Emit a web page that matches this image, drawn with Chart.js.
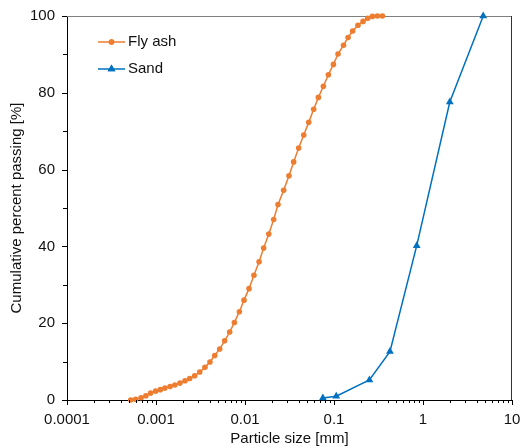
<!DOCTYPE html>
<html>
<head>
<meta charset="utf-8">
<script src="https://cdn.jsdelivr.net/npm/chart.js@4.4.0/dist/chart.umd.min.js"></script>
<style>
  html, body { margin: 0; padding: 0; background: #fff; }
</style>
</head>
<body>
<canvas id="psdChart" width="520" height="448"></canvas>
<script>
// particle size distribution, size in mm, cumulative % passing
const flyAshSize = [0.00052, 0.00059, 0.00068, 0.00077, 0.00087, 0.00099, 0.00112, 0.00126, 0.00144, 0.00163,
  0.00186, 0.00212, 0.00239, 0.00272, 0.0031, 0.00355, 0.00404, 0.00457, 0.0052, 0.00591,
  0.00673, 0.0076, 0.00865, 0.00975, 0.0111, 0.0126, 0.0144, 0.0162, 0.0185, 0.021,
  0.0235, 0.0272, 0.0312, 0.0352, 0.0401, 0.0457, 0.052, 0.0591, 0.0668, 0.076,
  0.0865, 0.0985, 0.111, 0.128, 0.144, 0.162, 0.186, 0.212, 0.239, 0.27,
  0.307, 0.35];
const flyAshPassing = [0, 0.2, 0.6, 1.1, 1.8, 2.3, 2.7, 3.1, 3.5, 3.9,
  4.4, 5.0, 5.6, 6.3, 7.3, 8.5, 9.9, 11.6, 13.3, 15.4,
  17.7, 20.2, 23.0, 26.0, 29.0, 32.5, 36.0, 39.6, 43.2, 47.0,
  50.9, 54.6, 58.4, 62.0, 65.6, 69.0, 72.3, 75.7, 78.8, 81.7,
  84.7, 87.4, 90.1, 92.4, 94.4, 96.1, 97.6, 98.6, 99.4, 99.9,
  100, 100];

const sandSize = [0.075, 0.106, 0.25, 0.425, 0.85, 2.0, 4.75];
const sandPassing = [0.5, 1.0, 5.2, 12.6, 40.2, 77.6, 100];

const xDecades = [0.0001, 0.001, 0.01, 0.1, 1, 10];
const xTickLabels = ['0.0001', '0.001', '0.01', '0.1', '1', '10'];
const yTickLabels = ['0', '20', '40', '60', '80', '100'];

const FONT = { family: "'Liberation Sans', Arial, sans-serif", size: 15 };
const TEXT = '#111';

function toPoints(xs, ys) {
  return xs.map((x, i) => ({ x: x, y: ys[i] }));
}

// outward tick marks (major + minor) and plot box
const axisDeco = {
  id: 'axisDeco',
  beforeDatasetsDraw(chart) {
    const { ctx, chartArea: a } = chart;
    ctx.save();
    ctx.lineWidth = 1;
    ctx.strokeStyle = '#808080';
    ctx.beginPath();
    ctx.moveTo(a.left, Math.round(a.top) + 0.5);
    ctx.lineTo(a.right, Math.round(a.top) + 0.5);
    ctx.stroke();
    ctx.strokeStyle = '#333';
    ctx.beginPath();
    ctx.moveTo(Math.round(a.right) - 0.5, a.top);
    ctx.lineTo(Math.round(a.right) - 0.5, a.bottom);
    ctx.stroke();
    ctx.restore();
  },
  afterDraw(chart) {
    const { ctx, chartArea: a, scales } = chart;
    const xs = scales.x, ys = scales.y;
    ctx.save();
    ctx.strokeStyle = '#000';
    ctx.lineWidth = 1;
    ctx.beginPath();
    xDecades.forEach((d, i) => {
      const last = i === xDecades.length - 1;
      for (let k = 1; k <= (last ? 1 : 9); k++) {
        const px = Math.round(xs.getPixelForValue(k * d)) + 0.5;
        const len = k === 1 ? 5 : 3;
        ctx.moveTo(px, a.bottom);
        ctx.lineTo(px, a.bottom + len);
      }
    });
    for (let v = 0; v <= 100; v += 10) {
      const py = Math.round(ys.getPixelForValue(v)) + 0.5;
      const len = v % 20 === 0 ? 5 : 4;
      ctx.moveTo(a.left, py);
      ctx.lineTo(a.left - len, py);
    }
    ctx.stroke();
    ctx.restore();
  }
};

// legend inside the plot, top-left
const insideLegend = {
  id: 'insideLegend',
  afterDraw(chart) {
    const ctx = chart.ctx;
    const rows = [42, 69];
    ctx.save();
    chart.data.datasets.forEach((ds, i) => {
      const y = rows[i];
      ctx.strokeStyle = ds.borderColor;
      ctx.lineWidth = 1.5;
      ctx.beginPath();
      ctx.moveTo(98, y);
      ctx.lineTo(125, y);
      ctx.stroke();
      ctx.fillStyle = ds.backgroundColor;
      Chart.helpers.drawPoint(ctx, {
        pointStyle: ds.pointStyle, radius: ds.pointRadius, rotation: 0, borderWidth: 0
      }, 111.5, y);
      ctx.fill();
      ctx.fillStyle = TEXT;
      ctx.font = FONT.size + 'px ' + FONT.family;
      ctx.textBaseline = 'middle';
      ctx.textAlign = 'left';
      ctx.fillText(ds.label, 128, y);
    });
    ctx.restore();
  }
};

new Chart(document.getElementById('psdChart'), {
  type: 'line',
  data: {
    datasets: [{
      label: 'Fly ash',
      data: toPoints(flyAshSize, flyAshPassing),
      borderColor: '#ED7D31',
      backgroundColor: '#ED7D31',
      borderWidth: 1.5,
      pointStyle: 'circle',
      pointRadius: 2.8,
      pointBorderWidth: 0,
      tension: 0,
      clip: false
    }, {
      label: 'Sand',
      data: toPoints(sandSize, sandPassing),
      borderColor: '#0070C0',
      backgroundColor: '#0070C0',
      borderWidth: 1.5,
      pointStyle: 'triangle',
      pointRadius: 4.5,
      pointBorderWidth: 0,
      tension: 0,
      clip: false
    }]
  },
  options: {
    responsive: false,
    animation: false,
    devicePixelRatio: 1,
    layout: { padding: { left: 0, right: 8, top: 16, bottom: 0 } },
    plugins: {
      legend: { display: false },
      tooltip: { enabled: false }
    },
    scales: {
      x: {
        type: 'logarithmic',
        min: 0.0001,
        max: 10,
        afterBuildTicks: (scale) => { scale.ticks = xDecades.map(v => ({ value: v })); },
        afterFit: (scale) => {
          scale.height = 48;
          scale.paddingLeft = 0;
          scale.paddingRight = 0;
        },
        grid: { display: false, drawTicks: false },
        border: { display: true, color: '#000', width: 1 },
        ticks: {
          autoSkip: false,
          maxRotation: 0,
          padding: 11,
          color: TEXT,
          font: FONT,
          callback: (v) => {
            const i = xDecades.findIndex(d => Math.abs(d - v) / d < 1e-6);
            return i >= 0 ? xTickLabels[i] : '';
          }
        },
        title: {
          display: true,
          text: 'Particle size [mm]',
          color: TEXT,
          font: FONT,
          padding: { top: 0, bottom: 0 }
        }
      },
      y: {
        min: 0,
        max: 100,
        afterFit: (scale) => {
          scale.width = 67;
          scale.paddingTop = 0;
          scale.paddingBottom = 0;
        },
        grid: { display: false, drawTicks: false },
        border: { display: true, color: '#000', width: 1 },
        ticks: {
          stepSize: 10,
          padding: 12,
          color: TEXT,
          font: FONT,
          callback: (v) => yTickLabels.includes(String(v)) ? String(v) : ''
        },
        title: {
          display: true,
          text: 'Cumulative percent passing [%]',
          color: TEXT,
          font: FONT,
          padding: { top: 8, bottom: 0 }
        }
      }
    }
  },
  plugins: [axisDeco, insideLegend]
});
</script>
</body>
</html>
